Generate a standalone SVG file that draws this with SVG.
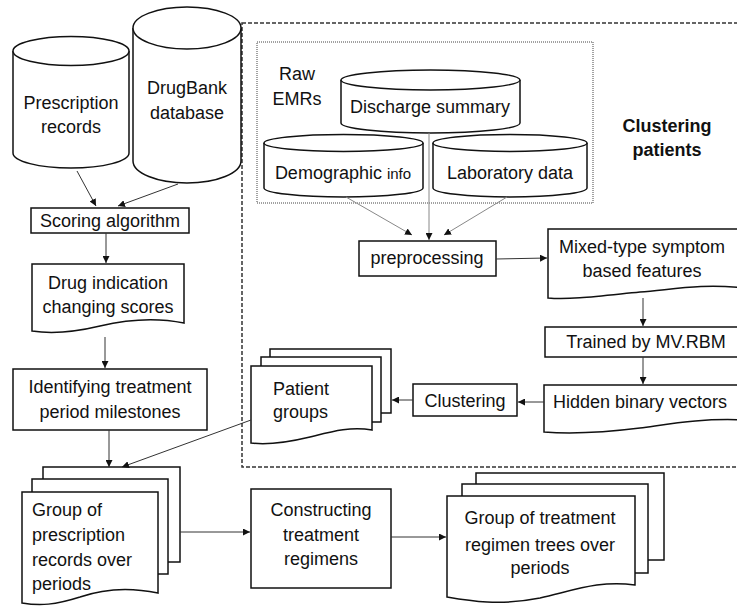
<svg xmlns="http://www.w3.org/2000/svg" width="737" height="606" viewBox="0 0 737 606">
<defs>
<marker id="ah" viewBox="0 0 10 10" refX="10" refY="5" markerWidth="7" markerHeight="7" markerUnits="userSpaceOnUse" orient="auto"><path d="M0,0 L10,5 L0,10 z" fill="#111"/></marker>
<style>
.s{fill:#fff;stroke:#111;stroke-width:1.5}
.t{font-family:"Liberation Sans",Arial,sans-serif;font-size:18px;fill:#111;text-anchor:middle}
.l{text-anchor:start}
.b{font-weight:bold}
.c{fill:none;stroke:#333;stroke-width:1;marker-end:url(#ah)}
.g{stroke:#888}
</style>
</defs>
<rect x="242" y="23" width="520" height="444" fill="none" stroke="#333" stroke-width="1.5" stroke-dasharray="4,2"/>
<rect x="257" y="42" width="336" height="161" fill="none" stroke="#444" stroke-width="1" stroke-dasharray="1,1"/>
<g id="prescription-records">
<path class="s" d="M13,51 V153 A58,15 0 0 0 129,153 V51"/><ellipse class="s" cx="71" cy="51" rx="58" ry="14.5"/>
<text class="t" x="71" y="109">Prescription</text><text class="t" x="71" y="133">records</text></g>
<g id="drugbank">
<path class="s" d="M133,28 V161 A54,22 0 0 0 241,161 V28"/><ellipse class="s" cx="187" cy="28" rx="54" ry="21"/>
<text class="t" x="187" y="94">DrugBank</text><text class="t" x="187" y="119">database</text></g>
<g id="scoring"><rect class="s" x="31" y="208" width="158" height="25"/><text class="t" x="110" y="227">Scoring algorithm</text></g>
<g id="drug-indication"><path class="s" d="M32,264 H184 V323 C155,317 125,320 100,326 C75,332 52,334 32,331 Z"/>
<text class="t" x="108" y="289">Drug indication</text><text class="t" x="108" y="313">changing scores</text></g>
<g id="identifying"><rect class="s" x="13" y="369" width="194" height="61"/>
<text class="t" x="110" y="393">Identifying treatment</text><text class="t" x="110" y="418">period milestones</text></g>
<g id="group-prescription">
<rect class="s" x="43" y="467" width="137" height="95"/><rect class="s" x="32" y="479" width="136" height="95"/>
<path class="s" d="M22,492 H158 V593 C125,586 100,590 80,597 C55,605 40,606 22,603 Z"/>
<text class="t l" x="32" y="516">Group of</text><text class="t l" x="32" y="541">prescription</text><text class="t l" x="32" y="566">records over</text><text class="t l" x="32" y="590">periods</text></g>
<g id="constructing"><rect class="s" x="251" y="489" width="140" height="99"/>
<text class="t" x="321" y="516">Constructing</text><text class="t" x="321" y="541">treatment</text><text class="t" x="321" y="565">regimens</text></g>
<g id="group-trees">
<rect class="s" x="476" y="473" width="188" height="87"/><rect class="s" x="462" y="484" width="186" height="89"/>
<path class="s" d="M447,496 H635 V585 C600,580 575,590 540,598 C500,606 470,601 447,597 Z"/>
<text class="t" x="540" y="524">Group of treatment</text><text class="t" x="540" y="551">regimen trees over</text><text class="t" x="540" y="574">periods</text></g>
<g id="raw-emrs"><text class="t" x="297" y="80">Raw</text><text class="t" x="297" y="105">EMRs</text></g>
<g id="discharge">
<path class="s" d="M341,80 V123 A89.5,10 0 0 0 520,123 V80"/><ellipse class="s" cx="430.5" cy="80" rx="89.5" ry="10"/>
<text class="t" x="430" y="113">Discharge summary</text></g>
<g id="demographic">
<path class="s" d="M264,143 V188 A79.5,9 0 0 0 423,188 V143"/><ellipse class="s" cx="343.5" cy="143" rx="79.5" ry="8.5"/>
<text class="t" x="343" y="179">Demographic <tspan font-size="15">info</tspan></text></g>
<g id="laboratory">
<path class="s" d="M433,143 V188 A77,9 0 0 0 587,188 V143"/><ellipse class="s" cx="510" cy="143" rx="77" ry="8.5"/>
<text class="t" x="510" y="179">Laboratory data</text></g>
<g id="clustering-patients"><text class="t b" x="667" y="132">Clustering</text><text class="t b" x="667" y="156">patients</text></g>
<g id="preprocessing"><rect class="s" x="359" y="241" width="137" height="35"/><text class="t" x="427" y="264">preprocessing</text></g>
<g id="mixed-type"><path class="s" d="M548,229 H745 V288 C700,283 670,290 640,292 C600,296 570,300 548,298 Z"/>
<text class="t" x="642" y="253">Mixed-type symptom</text><text class="t" x="642" y="277">based features</text></g>
<g id="mvrbm"><rect class="s" x="545" y="327" width="195" height="30"/><text class="t" x="646" y="348">Trained by MV.RBM</text></g>
<g id="hidden"><path class="s" d="M544,385 H745 V420 C700,418 670,424 640,428 C600,433 570,434 544,432 Z"/>
<text class="t" x="640" y="408">Hidden binary vectors</text></g>
<g id="clustering"><rect class="s" x="413" y="384" width="104" height="32"/><text class="t" x="465" y="407">Clustering</text></g>
<g id="patient-groups">
<rect class="s" x="270" y="349" width="121" height="64"/><rect class="s" x="261" y="357" width="120" height="65"/>
<path class="s" d="M251,366 H372 V430 C350,426 330,432 310,437 C285,443 265,445 251,443 Z"/>
<text class="t l" x="273" y="395">Patient</text><text class="t l" x="273" y="418">groups</text></g>
<g id="connectors">
<path class="c" d="M77,171 L96,206"/>
<path class="c" d="M178,184 L118,206"/>
<path class="c" d="M106,233 V263"/>
<path class="c" d="M105,337 V368"/>
<path class="c" d="M109,430 V467"/>
<path class="c" d="M251,420 L122,467"/>
<path class="c" d="M180,532 H250"/>
<path class="c" d="M391,537 H446"/>
<path class="c g" d="M429,133 V240"/>
<path class="c g" d="M346,197 L412,235"/>
<path class="c g" d="M507,197 L444,235"/>
<path class="c" d="M496,259 L547,258"/>
<path class="c" d="M643,298 V326"/>
<path class="c" d="M643,357 V384"/>
<path class="c" d="M544,402 H518"/>
<path class="c" d="M413,400 H392"/>
</g>
</svg>
